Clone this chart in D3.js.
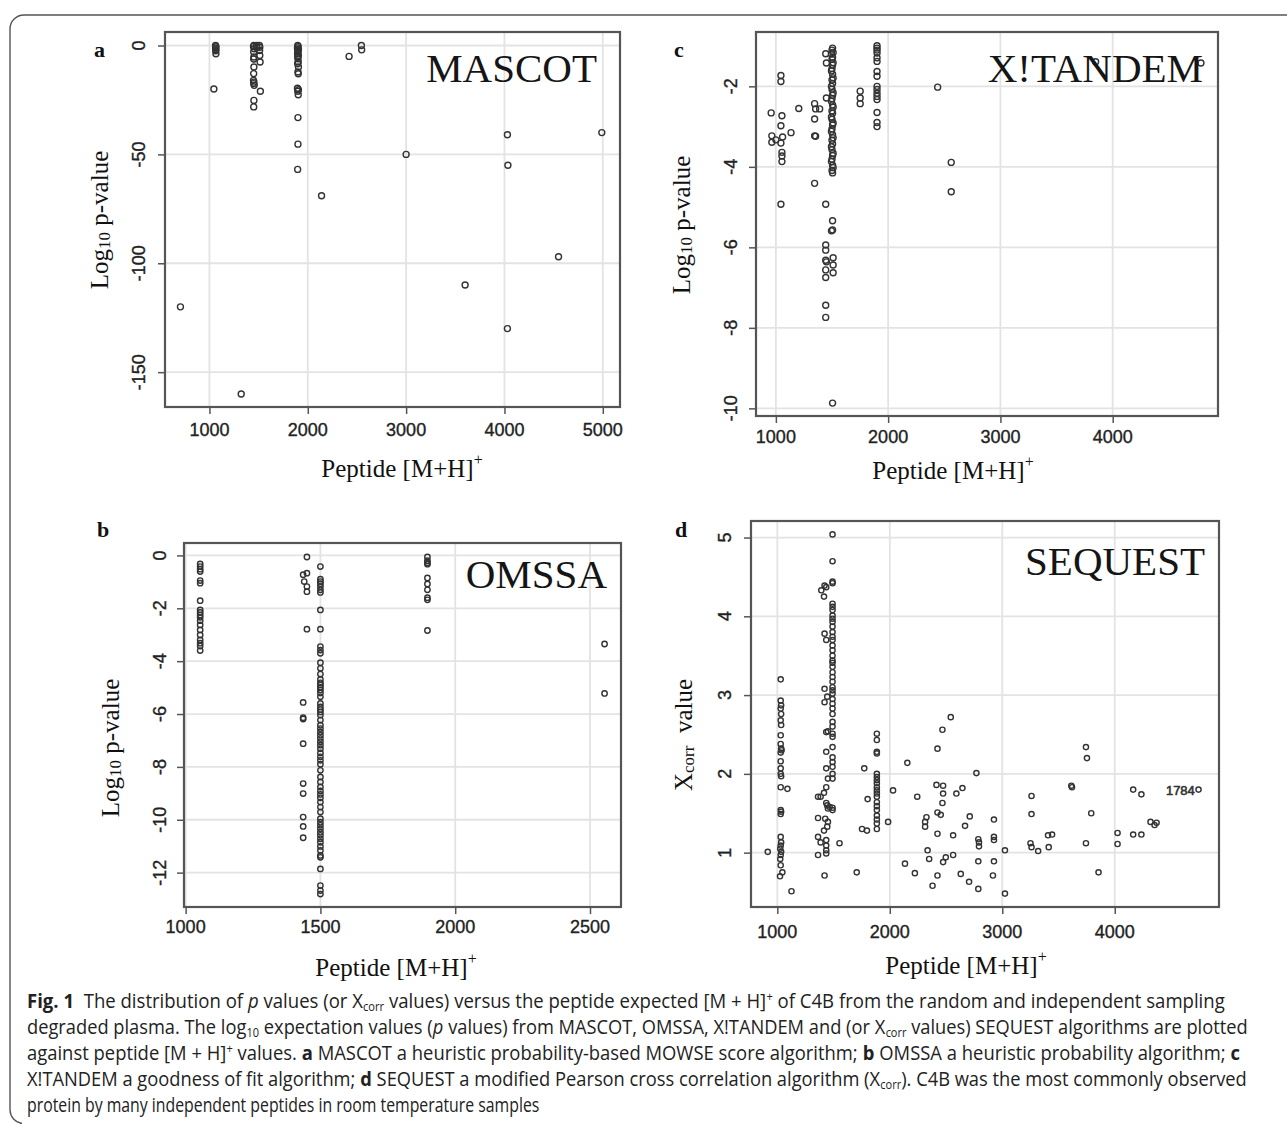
<!DOCTYPE html>
<html><head><meta charset="utf-8">
<script src="https://cdn.jsdelivr.net/npm/d3@7"></script>
<style>body{margin:0;background:#fff}svg{display:block}text{white-space:pre}</style>
</head><body>
<svg id="chart" width="1287" height="1124"></svg>
<script>
// ---------------- DATA ----------------
const mascotXTicks = [1000, 2000, 3000, 4000, 5000];
const mascotYTicks = [0, -50, -100, -150];
const mascotPoints = [
  [1062,0],[1066,-0.6],[1062,-1.2],[1066,-1.8],[1064,-2.4],[1066,-3.8],[1045,-20],
  [1452,0],[1448,-0.5],[1455,-1.5],[1450,-3],[1452,-5.3],[1450,-6.2],[1452,-9.9],[1450,-12.9],
  [1448,-16],[1452,-16.8],[1450,-17.5],[1455,-18.3],[1452,-25.2],[1450,-28.2],
  [1480,0],[1482,-1],
  [1508,0],[1512,-0.8],[1510,-2.3],[1512,-4.6],[1515,-7.6],[1518,-21],
  [1898,0],[1902,-0.5],[1895,-1.1],[1905,-1.7],[1898,-2.3],[1902,-3],[1896,-3.8],[1904,-4.6],
  [1898,-5.3],[1900,-6.1],[1903,-7.6],[1897,-8.4],[1905,-9.9],[1900,-12.2],[1903,-13],
  [1895,-19.6],[1905,-20.3],[1898,-21],[1903,-22.6],[1900,-33.1],[1900,-45.3],[1897,-56.9],
  [2140,-69],[2420,-5],[2545,0],[2548,-2],[705,-120],[1323,-160],[3000,-50],
  [4030,-41],[4035,-55],[4030,-130],[3600,-110],[4550,-97],[4990,-40]
];

const xtandemXTicks = [1000, 2000, 3000, 4000];
const xtandemYTicks = [-2, -4, -6, -8, -10];
const xtandemPoints = [
  [958,-2.66],[964,-3.23],[964,-3.39],[1045,-1.73],[1045,-1.88],[1054,-2.73],[1045,-2.98],
  [1060,-3.26],[1045,-3.41],[1054,-3.64],[1054,-3.73],[1054,-3.87],[1045,-4.93],[1000,-3.33],
  [1135,-3.15],[1204,-2.55],
  [1345,-2.43],[1354,-2.56],[1390,-2.56],[1345,-2.81],[1345,-3.23],[1354,-3.24],[1345,-4.41],
  [1444,-1.19],[1450,-1.42],[1450,-2.29],[1444,-4.93],
  [1505,-1.05],[1500,-1.1],[1510,-1.16],[1495,-1.2],[1505,-1.28],[1500,-1.33],[1510,-1.41],
  [1505,-1.47],[1500,-1.56],[1495,-1.62],[1505,-1.7],[1510,-1.79],[1500,-1.84],[1505,-1.93],
  [1495,-2.0],[1500,-2.07],[1510,-2.16],[1505,-2.22],[1500,-2.31],[1495,-2.37],[1505,-2.46],
  [1510,-2.52],[1500,-2.61],[1505,-2.67],[1495,-2.76],[1500,-2.82],[1510,-2.91],[1505,-2.96],
  [1500,-3.06],[1495,-3.12],[1505,-3.2],[1510,-3.28],[1500,-3.34],[1505,-3.43],[1495,-3.5],
  [1500,-3.57],[1510,-3.66],[1505,-3.72],[1500,-3.81],[1495,-3.87],[1505,-3.96],[1510,-4.02],
  [1500,-4.09],[1505,-4.15],
  [1505,-5.34],[1505,-5.57],[1495,-5.59],[1444,-5.94],[1444,-6.07],[1444,-6.32],[1450,-6.36],
  [1510,-6.26],[1510,-6.44],[1444,-6.56],[1444,-6.75],[1510,-6.63],[1444,-7.44],[1444,-7.74],
  [1505,-9.87],
  [1751,-2.12],[1751,-2.29],[1751,-2.43],
  [1901,-0.99],[1901,-1.05],[1901,-1.1],[1901,-1.17],[1901,-1.29],[1901,-1.38],[1901,-1.63],
  [1901,-1.75],[1901,-2.0],[1901,-2.08],[1901,-2.17],[1901,-2.25],[1901,-2.33],[1901,-2.65],
  [1901,-2.9],[1901,-3.0],
  [2441,-2.02],[2562,-3.89],[2562,-4.62],[3848,-1.39],[4786,-1.42]
];

const omssaXTicks = [1000, 1500, 2000, 2500];
const omssaYTicks = [0, -2, -4, -6, -8, -10, -12];
const omssaPoints = [
  [1054,-0.32],[1054,-0.42],[1054,-0.52],[1054,-0.61],[1054,-0.95],[1054,-1.05],[1054,-1.71],
  [1054,-2.06],[1054,-2.16],[1054,-2.25],[1054,-2.34],[1054,-2.47],[1054,-2.63],[1054,-2.82],
  [1054,-3.01],[1054,-3.2],[1054,-3.32],[1054,-3.43],[1054,-3.6],
  [1450,-0.06],[1436,-0.73],[1450,-0.67],[1440,-0.99],[1450,-1.18],[1450,-1.37],[1450,-2.79],
  [1436,-5.56],[1436,-6.14],[1436,-6.19],[1436,-7.12],[1436,-8.63],[1436,-9.01],[1436,-9.9],
  [1436,-10.25],[1436,-10.68],
  [1500,-0.42],[1500,-0.9],[1500,-0.99],[1500,-1.07],[1500,-1.18],[1500,-1.3],[1500,-1.4],
  [1500,-2.06],[1500,-2.79],[1500,-3.45],[1500,-3.58],[1500,-3.7],[1500,-4.06],[1500,-4.27],
  [1500,-4.49],[1500,-4.69],[1500,-4.82],[1500,-4.9],[1500,-4.99],[1500,-5.09],[1500,-5.2],
  [1500,-5.35],[1500,-5.6],[1500,-5.73],[1500,-5.83],[1500,-5.92],[1500,-6.04],[1500,-6.23],
  [1500,-6.42],[1500,-6.55],[1500,-6.68],[1500,-6.8],[1500,-6.93],[1500,-7.05],[1500,-7.18],
  [1500,-7.31],[1500,-7.47],[1500,-7.62],[1500,-7.75],[1500,-7.9],[1500,-8.13],[1500,-8.38],
  [1500,-8.57],[1500,-8.76],[1500,-8.91],[1500,-9.04],[1500,-9.17],[1500,-9.33],[1500,-9.52],
  [1500,-9.71],[1500,-9.96],[1500,-10.09],[1500,-10.21],[1500,-10.34],[1500,-10.47],[1500,-10.59],
  [1500,-10.72],[1500,-10.85],[1500,-11.01],[1500,-11.16],[1500,-11.35],[1500,-11.42],[1500,-11.86],
  [1500,-12.49],[1500,-12.68],[1500,-12.81],
  [1897,-0.06],[1897,-0.2],[1897,-0.28],[1897,-0.33],[1897,-0.85],[1897,-1.08],[1897,-1.3],
  [1897,-1.6],[1897,-1.68],[1897,-2.84],
  [2554,-3.35],[2554,-5.22]
];

const sequestXTicks = [1000, 2000, 3000, 4000];
const sequestYTicks = [1, 2, 3, 4, 5];
const sequestPoints = [
  [1030,3.2],[1030,2.93],[1034,2.87],[1030,2.83],[1034,2.76],[1030,2.68],[1034,2.62],[1030,2.49],
  [1030,2.38],[1034,2.32],[1038,2.3],[1030,2.27],[1030,2.16],[1030,2.07],[1030,2.0],[1034,1.97],
  [1030,1.83],[1090,1.81],[1030,1.54],[1034,1.52],[1030,1.49],[1030,1.2],[1034,1.13],[1030,1.09],
  [1026,1.05],[1034,1.01],[1030,0.97],[1026,0.92],[1030,0.84],[1045,0.75],[1024,0.7],
  [915,1.01],[1126,0.51],
  [1491,5.04],[1491,4.7],[1491,4.44],[1491,4.42],[1491,4.16],[1491,4.12],[1491,4.08],[1491,4.01],
  [1491,3.97],[1491,3.93],[1491,3.87],[1491,3.8],[1491,3.74],[1491,3.7],[1491,3.63],[1491,3.57],
  [1491,3.5],[1491,3.44],[1491,3.41],[1491,3.36],[1491,3.29],[1491,3.23],[1491,3.17],[1491,3.1],
  [1491,3.06],[1491,3.02],[1491,2.95],[1491,2.89],[1491,2.83],[1491,2.76],[1491,2.66],[1491,2.6],
  [1491,2.51],[1491,2.47],[1491,2.34],[1491,2.21],[1491,2.15],[1491,2.09],[1491,2.0],[1491,1.94],
  [1491,1.57],[1491,1.54],
  [1420,4.39],[1391,4.33],[1415,4.25],[1435,4.37],[1420,3.78],[1435,3.7],[1420,3.08],[1444,2.98],
  [1420,2.91],[1435,2.53],[1450,2.54],[1435,2.28],[1435,2.07],[1450,1.94],[1435,1.83],[1415,1.76],
  [1362,1.71],[1385,1.71],[1435,1.63],[1444,1.6],[1450,1.56],[1465,1.58],[1362,1.44],[1426,1.43],
  [1450,1.39],[1444,1.33],[1415,1.28],[1362,1.2],[1385,1.13],[1435,1.16],[1435,1.09],[1435,1.03],
  [1435,0.99],[1362,0.97],[1420,0.71],[1553,1.12],
  [1885,2.51],[1885,2.43],[1885,2.28],[1885,2.26],[1885,2.0],[1885,1.96],[1885,1.92],[1885,1.88],
  [1885,1.83],[1885,1.79],[1885,1.75],[1885,1.71],[1885,1.64],[1885,1.59],[1885,1.54],[1885,1.47],
  [1885,1.42],[1885,1.37],[1885,1.3],
  [1773,2.07],[1803,1.68],[1753,1.3],[1797,1.28],[1706,0.75],[1985,1.39],[2029,1.79],[2156,2.14],
  [2244,1.71],[2135,0.86],[2223,0.74],
  [2542,2.72],[2468,2.56],[2424,2.32],[2770,2.01],[2415,1.86],[2474,1.85],[2646,1.82],[2592,1.75],
  [2474,1.75],[2468,1.63],[2424,1.51],[2453,1.48],[2326,1.45],[2314,1.39],[2314,1.33],[2711,1.46],
  [2669,1.34],[2926,1.42],[2424,1.24],[2563,1.22],[2787,1.17],[2793,1.13],[2926,1.2],[2926,1.16],
  [2793,1.08],[2336,1.03],[3024,1.03],[2350,0.92],[2498,0.94],[2474,0.88],[2563,0.97],[2787,0.89],
  [2926,0.89],[2424,0.71],[2631,0.73],[2705,0.63],[2917,0.71],[2380,0.58],[2787,0.54],[3024,0.48],
  [3260,1.72],[3260,1.49],[3251,1.12],[3260,1.07],[3319,1.02],[3413,1.07],[3407,1.22],[3443,1.23],
  [3614,1.85],[3620,1.83],[3744,2.34],[3753,2.2],[3791,1.5],[3744,1.12],[3856,0.75],
  [4025,1.25],[4025,1.11],[4164,1.8],[4237,1.74],[4164,1.23],[4237,1.23],[4318,1.39],[4372,1.38],
  [4354,1.35],[4745,1.8]
];
const sequestNotes = [[4455, 1.79, '1784']];

// ---------------- LAYOUT ----------------
const panels = [
  {key:'a', pts:mascotPoints, xt:mascotXTicks, yt:mascotYTicks, box:[165,620,32,407],
   xd:[548,5175], yd:[-166,6.2], yLabX:139, xLabY:430, xTitle:[402,468], yTitle:[99.5,220],
   label:[99.5,57], name:'MASCOT', nameAt:[597,82], r:3.0, ytitle:'log'},
  {key:'c', pts:xtandemPoints, xt:xtandemXTicks, yt:xtandemYTicks, box:[756,1218,32,416],
   xd:[823,4938], yd:[-10.19,-0.65], yLabX:731, xLabY:437, xTitle:[953,470], yTitle:[681,225],
   label:[679,57], name:'X!TANDEM', nameAt:[1203,82], r:3.0, ytitle:'log'},
  {key:'b', pts:omssaPoints, xt:omssaXTicks, yt:omssaYTicks, box:[184,621,543,907],
   xd:[994,2615], yd:[-13.3,0.47], yLabX:160, xLabY:927, xTitle:[396,967], yTitle:[110,748],
   label:[103,537], name:'OMSSA', nameAt:[607,588], r:2.7, ytitle:'log'},
  {key:'d', pts:sequestPoints, xt:sequestXTicks, yt:sequestYTicks, box:[751,1219,521,907],
   xd:[766,4927], yd:[0.31,5.21], yLabX:725, xLabY:932, xTitle:[966,965], yTitle:[683,735],
   label:[681,537], name:'SEQUEST', nameAt:[1205,575], r:2.6, ytitle:'xcorr', notes:sequestNotes}
];

const svg = d3.select('#chart');
const SERIF = "'Liberation Serif','Times New Roman',serif";
const SANS = "'Liberation Sans',Arial,sans-serif";
const CAPF = "'Open Sans','Noto Sans',sans-serif";

// Rich text: segments drawn as separate <text> nodes side by side inside a group,
// optionally squeezed horizontally by kx.
function richText(parent, segs, opts) {
  const outer = parent.append('g');
  const inner = outer.append('g');
  const kx = opts.kx || 1;
  const nodes = segs.map(s => {
    const fs = (s.sub || s.sup) ? opts.subSize : opts.size;
    const t = inner.append('text')
      .attr('font-family', opts.family).attr('font-size', fs)
      .attr('fill', opts.fill).text(s.t);
    if (s.b) t.attr('font-weight', 'bold');
    if (s.i) t.attr('font-style', 'italic');
    return {s, t, w: t.node().getComputedTextLength()};
  });
  const total = d3.sum(nodes, n => n.w);
  let cx = opts.anchor === 'middle' ? -total / 2 : 0;
  nodes.forEach(n => {
    const dy = n.s.sub ? opts.subDy : (n.s.sup ? opts.supDy : 0);
    n.t.attr('x', cx).attr('y', dy).attr('dominant-baseline', opts.baseline || 'alphabetic');
    cx += n.w;
  });
  if (kx !== 1) inner.attr('transform', `scale(${kx},1)`);
  return {g: outer, total};
}

// frame
svg.append('path')
  .attr('d','M1287,15 H24 A14,14 0 0 0 10,29 V1110 A14,14 0 0 0 22,1123.5')
  .attr('fill','none').attr('stroke','#555').attr('stroke-width',1.4);

panels.forEach(p => {
  const [l,r,t,b] = p.box;
  const x = d3.scaleLinear().domain(p.xd).range([l,r]);
  const y = d3.scaleLinear().domain(p.yd).range([b,t]);
  const g = svg.append('g');

  // grid
  g.selectAll('.gx').data(p.xt).join('line')
    .attr('x1',d=>x(d)).attr('x2',d=>x(d)).attr('y1',t).attr('y2',b)
    .attr('stroke','#e3e3e3').attr('stroke-width',1.8);
  g.selectAll('.gy').data(p.yt).join('line')
    .attr('y1',d=>y(d)).attr('y2',d=>y(d)).attr('x1',l).attr('x2',r)
    .attr('stroke','#e3e3e3').attr('stroke-width',1.8);

  // points
  g.append('g').selectAll('circle').data(p.pts).join('circle')
    .attr('cx',d=>x(d[0])).attr('cy',d=>y(d[1])).attr('r',p.r)
    .attr('fill','none').attr('stroke','#333').attr('stroke-width',1.4);

  if (p.notes) {
    g.selectAll('.note').data(p.notes).join('text')
      .attr('x',d=>x(d[0])).attr('y',d=>y(d[1]))
      .attr('dominant-baseline','central')
      .attr('font-family',SANS).attr('font-size',13).attr('fill','#333')
      .attr('stroke','#333').attr('stroke-width',0.6)
      .text(d=>d[2]);
  }

  // axes ticks (outward)
  const axB = g.append('g').attr('transform',`translate(0,${b})`)
    .call(d3.axisBottom(x).tickValues(p.xt).tickSize(7).tickFormat(''));
  const axL = g.append('g').attr('transform',`translate(${l},0)`)
    .call(d3.axisLeft(y).tickValues(p.yt).tickSize(7).tickFormat(''));
  [axB,axL].forEach(a=>{
    a.select('.domain').remove();
    a.selectAll('line').attr('stroke','#555').attr('stroke-width',1.5);
  });

  // box
  g.append('rect').attr('x',l).attr('y',t).attr('width',r-l).attr('height',b-t)
    .attr('fill','none').attr('stroke','#555').attr('stroke-width',2.2);

  // tick labels
  g.selectAll('.xl').data(p.xt).join('text')
    .attr('x',d=>x(d)).attr('y',p.xLabY)
    .attr('text-anchor','middle').attr('dominant-baseline','central')
    .attr('font-family',SANS).attr('font-size',18).attr('fill','#222')
    .attr('stroke','#222').attr('stroke-width',0.35)
    .text(d=>d);
  g.selectAll('.yl').data(p.yt).join('text')
    .attr('transform',d=>`translate(${p.yLabX},${y(d)}) rotate(-90)`)
    .attr('text-anchor','middle').attr('dominant-baseline','central')
    .attr('font-family',SANS).attr('font-size',18).attr('fill','#222')
    .attr('stroke','#222').attr('stroke-width',0.35)
    .text(d=>d);

  // x title
  const xr = richText(g, [{t:'Peptide [M+H]'},{t:'+',sup:1}],
    {size:25, subSize:16, family:SERIF, fill:'#111', anchor:'middle', supDy:-9, baseline:'central'});
  xr.g.attr('transform',`translate(${p.xTitle[0]},${p.xTitle[1]})`);

  // y title
  const ySegs = p.ytitle === 'log'
    ? [{t:'Log'},{t:'10',sub:1},{t:' p-value'}]
    : [{t:'X'},{t:'corr',sub:1},{t:'  value'}];
  const yr = richText(g, ySegs,
    {size:25, subSize:17, family:SERIF, fill:'#111', anchor:'middle', subDy:5, baseline:'central'});
  yr.g.attr('transform',`translate(${p.yTitle[0]},${p.yTitle[1]}) rotate(-90)`);

  // panel label
  g.append('text').attr('x',p.label[0]).attr('y',p.label[1])
    .attr('text-anchor','middle').attr('font-family',SERIF).attr('font-weight','bold')
    .attr('font-size',22).attr('fill','#111').text(p.key);

  // algorithm name
  g.append('text').attr('x',p.nameAt[0]).attr('y',p.nameAt[1])
    .attr('text-anchor','end').attr('font-family',SERIF)
    .attr('font-size',41).attr('fill','#151515').text(p.name);
});

// ---------------- CAPTION ----------------
const captionLines = [
  [{t:'Fig. 1',b:1},{t:'  The distribution of '},{t:'p',i:1},{t:' values (or X'},{t:'corr',sub:1},
   {t:' values) versus the peptide expected [M + H]'},{t:'+',sup:1},{t:' of C4B from the random and independent sampling'}],
  [{t:'degraded plasma. The log'},{t:'10',sub:1},{t:' expectation values ('},{t:'p',i:1},
   {t:' values) from MASCOT, OMSSA, X!TANDEM and (or X'},{t:'corr',sub:1},{t:' values) SEQUEST algorithms are plotted'}],
  [{t:'against peptide [M + H]'},{t:'+',sup:1},{t:' values. '},{t:'a',b:1},
   {t:' MASCOT a heuristic probability-based MOWSE score algorithm; '},{t:'b',b:1},
   {t:' OMSSA a heuristic probability algorithm; '},{t:'c',b:1}],
  [{t:'X!TANDEM a goodness of fit algorithm; '},{t:'d',b:1},
   {t:' SEQUEST a modified Pearson cross correlation algorithm (X'},{t:'corr',sub:1},
   {t:'). C4B was the most commonly observed'}],
  [{t:'protein by many independent peptides in room temperature samples'}]
];
const captionEnds = [1225, 1248, 1240, 1247, 540];
const capX = 27, capBase = 1008, capStep = 26;
const capOpts = {size:20, subSize:12, family:CAPF, fill:'#222', anchor:'start', subDy:2.5, supDy:-7};

captionLines.forEach((segs,i) => {
  const probe = richText(svg, segs, capOpts);
  const nat = probe.total; probe.g.remove();
  const kx = (captionEnds[i] - capX) / nat;
  const rt = richText(svg, segs, Object.assign({}, capOpts, {kx}));
  rt.g.attr('transform',`translate(${capX},${capBase+i*capStep})`);
});
</script>
</body></html>
